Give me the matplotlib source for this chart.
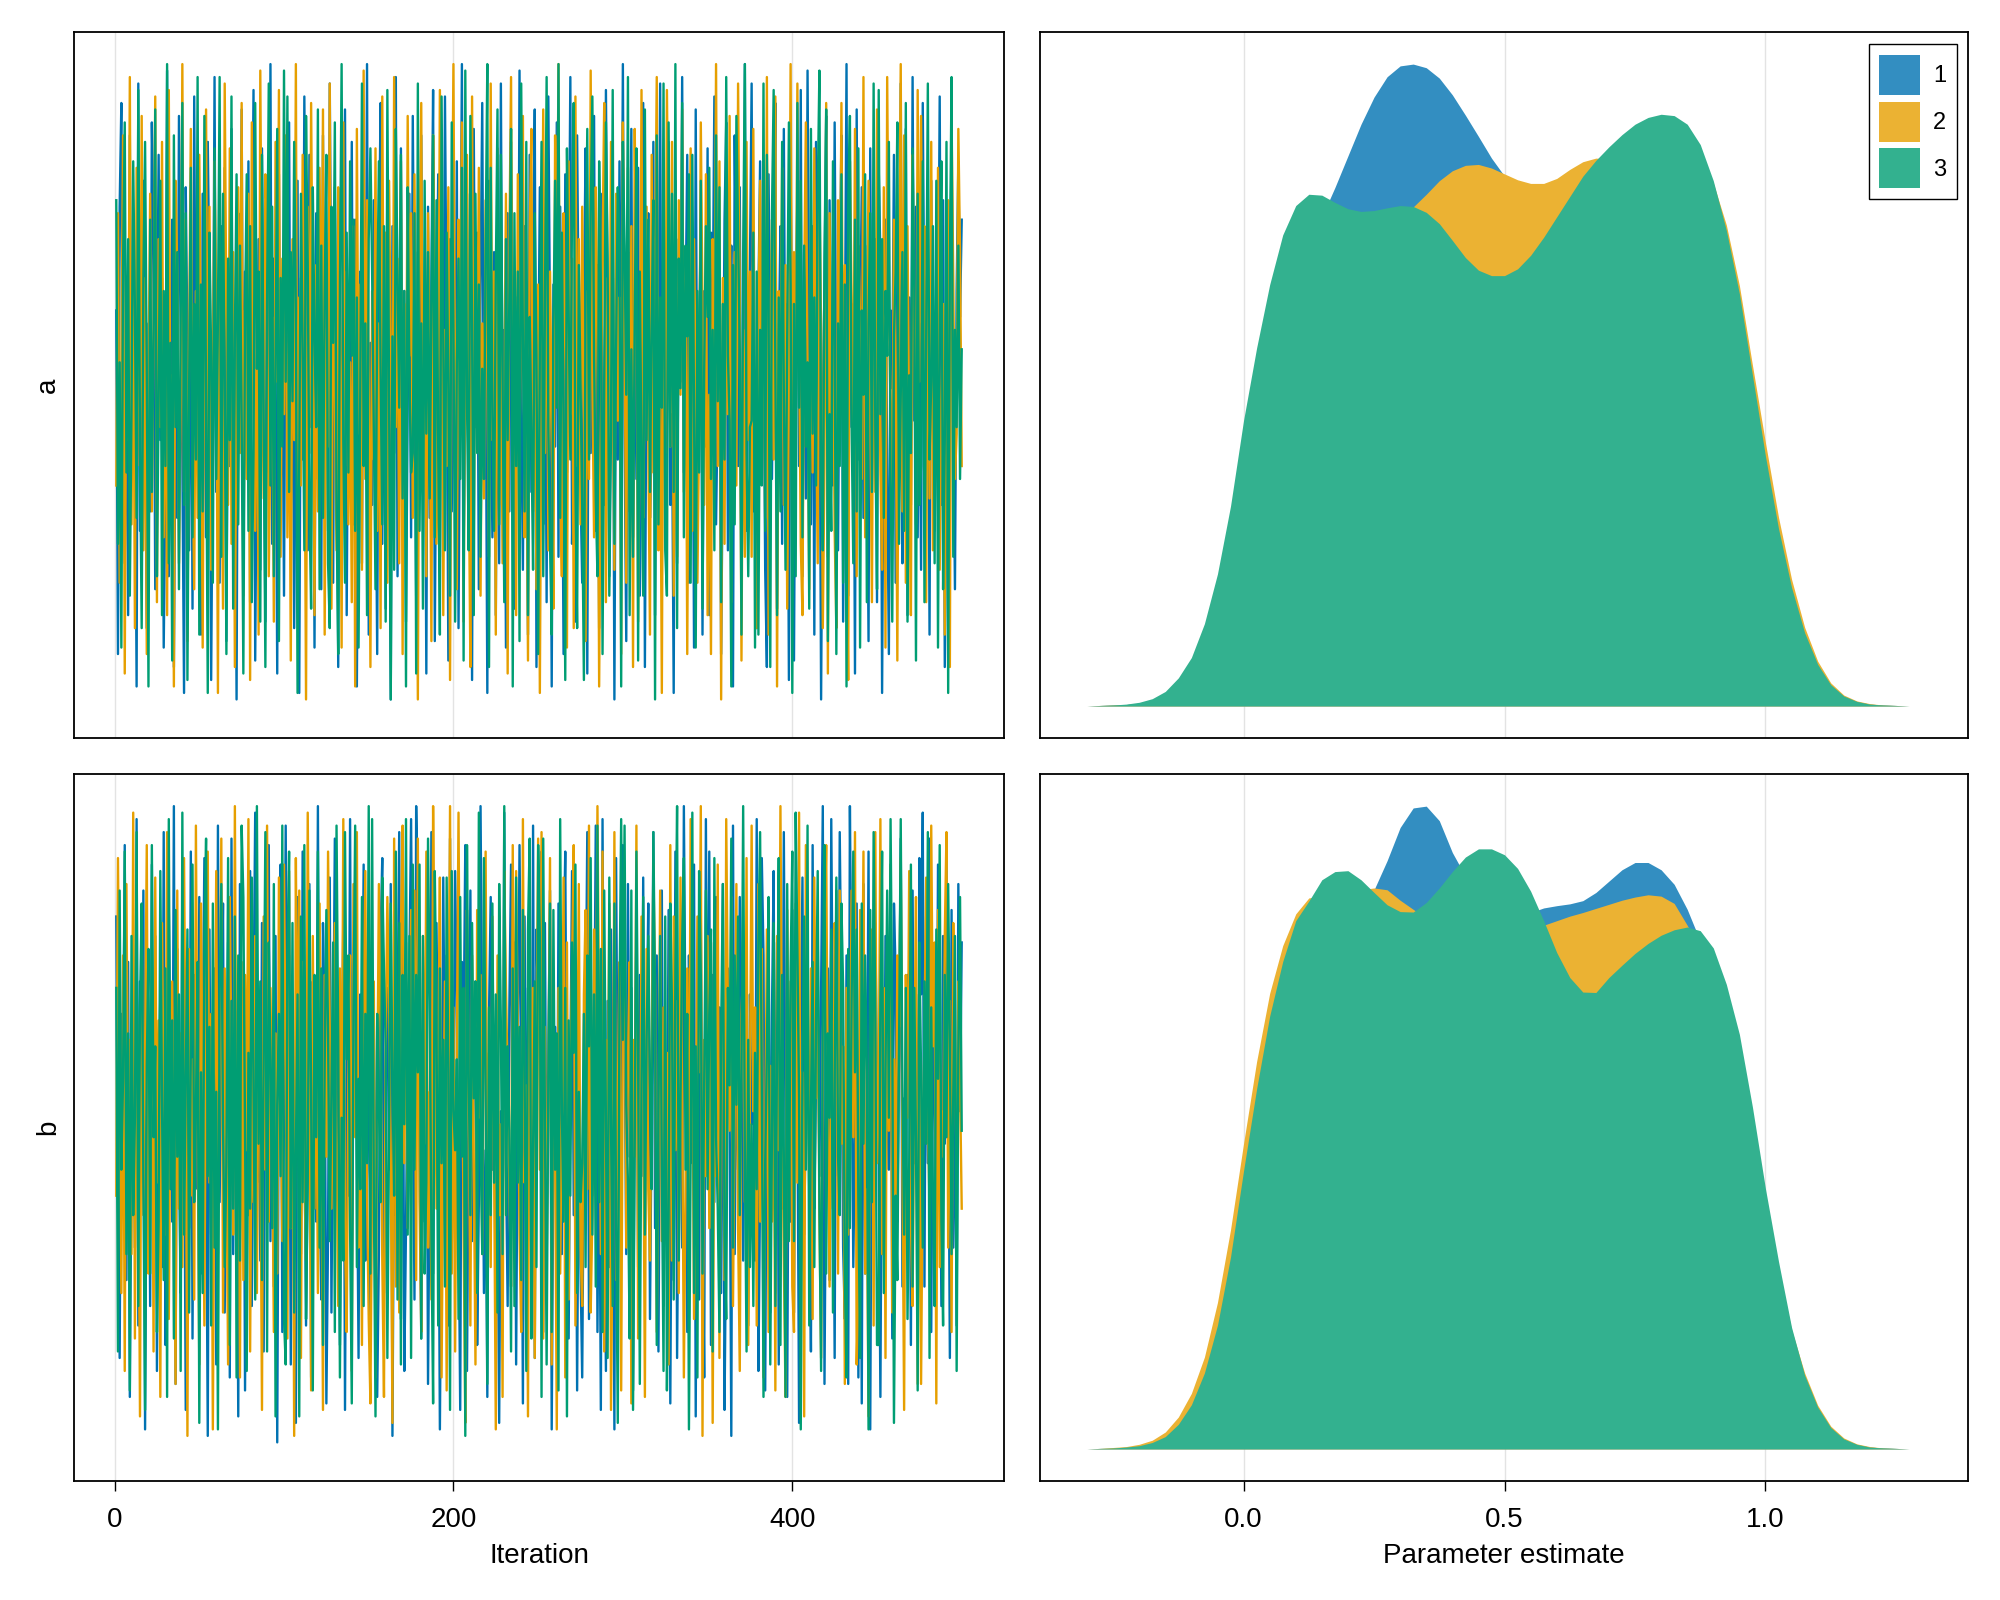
"""MCMC trace and density plot for parameters a and b, three chains."""

import matplotlib

matplotlib.use("Agg")

import matplotlib.pyplot as plt
import numpy as np
from matplotlib.patches import Patch

plt.rcParams["font.family"] = ["Liberation Sans", "DejaVu Sans"]

# Trace samples, stored as hundredths (0-99), one list per chain.
a_chain1 = [
    61, 8, 77, 93, 40, 22, 57, 14, 88, 35, 70, 49, 3, 96, 27, 64, 81, 45, 12, 59, 30, 90, 73, 18, 52,
    85, 41, 66, 9, 34, 98, 20, 53, 75, 6, 47, 29, 91, 63, 38, 2, 80, 56, 24, 71, 15, 94, 43, 68, 31,
    11, 79, 50, 26, 87, 65, 4, 42, 97, 33, 58, 19, 74, 46, 83, 10, 62, 37, 89, 23, 55, 1, 76, 48, 92,
    28, 67, 39, 84, 16, 60, 95, 7, 44, 72, 21, 86, 51, 13, 78, 36, 99, 25, 69, 54, 5, 82, 32, 58, 17,
    73, 46, 90, 30, 63, 12, 49, 81, 2, 66, 38, 94, 57, 24, 85, 43, 69, 9, 76, 35, 52, 18, 88, 41, 65,
    27, 96, 54, 19, 80, 47, 6, 71, 33, 59, 92, 14, 61, 40, 87, 28, 75, 3, 50, 67, 22, 84, 37, 99, 11,
    56, 31, 78, 44, 8, 69, 93, 25, 62, 15, 83, 48, 1, 74, 39, 97, 20, 58, 86, 34, 64, 13, 45, 79, 26,
    91, 53, 17, 70, 36, 88, 42, 60, 5, 77, 29, 66, 95, 10, 51, 82, 23, 68, 40, 94, 57, 7, 72, 30, 63,
    38, 84, 12, 55, 99, 24, 47, 79, 32, 61, 4, 89, 43, 73, 18, 65, 93, 35, 56, 2, 81, 49, 26, 70, 14,
    67, 22, 96, 41, 58, 9, 76, 30, 87, 52, 15, 63, 37, 98, 46, 21, 74, 54, 11, 85, 33, 69, 92, 6, 48,
    80, 43, 28, 71, 16, 94, 59, 3, 65, 40, 90, 23, 77, 50, 8, 82, 36, 61, 97, 25, 45, 13, 88, 57, 34,
    19, 62, 86, 5, 73, 39, 54, 91, 27, 68, 12, 79, 44, 31, 95, 60, 20, 53, 74, 1, 66, 38, 84, 47, 99,
    42, 10, 70, 57, 89, 26, 64, 35, 83, 17, 48, 93, 6, 58, 76, 29, 41, 87, 14, 69, 52, 96, 23, 78, 33,
    55, 87, 31, 45, 2, 81, 22, 72, 50, 97, 36, 60, 85, 19, 43, 67, 9, 92, 32, 56, 75, 11, 64, 40, 86,
    14, 73, 59, 94, 28, 47, 66, 8, 39, 75, 90, 24, 52, 71, 3, 88, 61, 37, 80, 18, 44, 99, 27, 53, 68,
    96, 30, 46, 12, 63, 84, 41, 57, 21, 6, 82, 49, 35, 67, 93, 15, 55, 74, 25, 89, 39, 62, 4, 83, 50,
    7, 58, 79, 37, 95, 20, 70, 32, 98, 54, 28, 74, 11, 87, 42, 60, 1, 46, 65, 91, 23, 78, 51, 34, 90,
    45, 24, 64, 88, 13, 53, 99, 17, 76, 43, 62, 5, 92, 38, 57, 80, 29, 71, 48, 10, 86, 33, 58, 72, 16,
    83, 69, 2, 51, 75, 36, 8, 61, 49, 85, 19, 67, 40, 96, 22, 50, 89, 14, 63, 31, 97, 44, 77, 26, 59,
    21, 93, 56, 39, 70, 11, 81, 44, 27, 66, 53, 94, 31, 78, 6, 35, 73, 58, 87, 47, 18, 64, 84, 60, 75,
]
a_chain2 = [
    34, 76, 19, 52, 88, 5, 63, 41, 97, 28, 70, 12, 83, 55, 37, 91, 24, 66, 8, 49, 79, 30, 58, 94, 16,
    72, 43, 87, 26, 60, 14, 95, 38, 51, 3, 81, 67, 22, 46, 99, 33, 75, 10, 57, 89, 40, 18, 64, 29, 85,
    53, 9, 68, 92, 36, 77, 21, 48, 84, 62, 2, 73, 44, 15, 96, 59, 31, 86, 25, 70, 6, 54, 80, 39, 93,
    17, 61, 35, 79, 4, 90, 47, 27, 65, 11, 98, 56, 32, 82, 74, 20, 42, 60, 13, 87, 50, 95, 23, 69, 45,
    88, 26, 56, 7, 72, 41, 99, 18, 63, 34, 85, 52, 1, 77, 39, 93, 57, 14, 68, 30, 83, 46, 92, 11, 61,
    40, 96, 15, 71, 48, 24, 80, 58, 9, 90, 37, 67, 28, 53, 16, 74, 3, 89, 42, 65, 21, 98, 35, 78, 50,
    6, 64, 38, 86, 27, 59, 12, 94, 45, 73, 19, 81, 55, 31, 97, 43, 69, 22, 84, 8, 62, 36, 91, 54, 76,
    29, 82, 47, 1, 68, 93, 33, 57, 20, 76, 51, 10, 88, 64, 25, 42, 95, 71, 14, 58, 37, 80, 4, 66, 99,
    44, 18, 75, 55, 90, 13, 62, 85, 38, 6, 94, 27, 70, 49, 83, 17, 59, 32, 78, 52, 23, 96, 41, 67, 11,
    86, 31, 60, 22, 46, 79, 5, 71, 97, 35, 56, 14, 82, 40, 63, 91, 26, 48, 7, 73, 89, 30, 55, 18, 65,
    2, 53, 92, 39, 81, 24, 67, 43, 15, 88, 61, 99, 34, 20, 76, 57, 9, 84, 45, 69, 12, 94, 37, 72, 28,
    77, 47, 10, 64, 35, 98, 50, 26, 80, 59, 3, 42, 71, 93, 16, 66, 38, 87, 55, 21, 79, 44, 63, 8, 90,
    58, 19, 83, 30, 74, 6, 89, 62, 13, 47, 95, 29, 54, 77, 41, 11, 85, 36, 68, 97, 24, 51, 2, 73, 39,
    95, 65, 40, 87, 17, 56, 23, 78, 48, 92, 33, 69, 8, 60, 86, 27, 72, 50, 19, 43, 90, 61, 31, 82, 14,
    48, 8, 72, 51, 99, 37, 84, 1, 66, 25, 79, 45, 91, 16, 53, 70, 34, 96, 62, 7, 58, 23, 87, 41, 67,
    23, 89, 33, 12, 60, 81, 43, 70, 29, 97, 11, 57, 75, 38, 94, 3, 64, 46, 83, 31, 68, 15, 52, 99, 36,
    70, 42, 96, 57, 25, 14, 65, 90, 52, 18, 74, 36, 86, 47, 22, 80, 58, 12, 37, 93, 5, 76, 44, 61, 27,
    12, 78, 54, 93, 44, 68, 28, 4, 84, 63, 39, 89, 20, 71, 60, 35, 97, 26, 55, 81, 47, 16, 73, 33, 92,
    65, 36, 21, 80, 9, 97, 61, 46, 31, 75, 52, 7, 67, 99, 30, 88, 19, 74, 40, 14, 85, 59, 28, 95, 50,
    91, 55, 74, 16, 69, 32, 87, 24, 58, 40, 83, 21, 48, 62, 11, 53, 78, 6, 91, 66, 35, 42, 89, 70, 37,
]
a_chain3 = [
    78, 25, 53, 9, 68, 90, 36, 72, 17, 46, 84, 61, 29, 95, 40, 12, 66, 87, 51, 3, 75, 33, 58, 92, 20,
    47, 81, 14, 64, 37, 99, 22, 56, 7, 88, 43, 70, 18, 59, 93, 31, 76, 4, 49, 83, 26, 62, 38, 97, 11,
    65, 30, 91, 45, 2, 73, 54, 19, 86, 35, 60, 97, 23, 79, 48, 8, 69, 41, 94, 15, 57, 82, 28, 71, 44,
    5, 60, 82, 27, 74, 16, 39, 93, 52, 67, 13, 85, 44, 6, 62, 96, 34, 77, 20, 53, 89, 10, 66, 40, 98,
    50, 94, 33, 70, 47, 87, 61, 2, 38, 79, 55, 24, 91, 68, 31, 15, 80, 57, 43, 92, 18, 71, 29, 63, 85,
    22, 12, 77, 56, 90, 30, 8, 65, 99, 41, 19, 73, 36, 84, 54, 75, 27, 63, 9, 48, 96, 37, 59, 14, 72,
    86, 67, 43, 18, 61, 84, 52, 28, 74, 13, 95, 48, 1, 57, 21, 89, 66, 46, 85, 32, 64, 3, 80, 51, 36,
    39, 76, 5, 96, 27, 59, 15, 81, 42, 70, 32, 62, 88, 26, 78, 40, 11, 94, 56, 24, 73, 49, 17, 90, 58,
    13, 53, 69, 35, 83, 7, 98, 47, 24, 91, 58, 14, 79, 39, 65, 23, 52, 35, 71, 99, 6, 83, 45, 27, 66,
    92, 28, 85, 50, 16, 72, 41, 63, 89, 3, 76, 37, 67, 10, 96, 56, 30, 87, 14, 60, 42, 21, 76, 54, 8,
    56, 87, 20, 62, 97, 43, 25, 11, 58, 81, 46, 99, 29, 73, 43, 4, 86, 61, 38, 77, 93, 34, 12, 68, 49,
    31, 4, 64, 89, 38, 76, 94, 54, 32, 20, 84, 65, 8, 50, 90, 69, 17, 42, 95, 25, 55, 80, 71, 3, 87,
    71, 48, 97, 14, 55, 23, 60, 86, 7, 67, 37, 17, 92, 41, 75, 33, 59, 78, 1, 88, 28, 63, 46, 96, 24,
    17, 90, 40, 79, 33, 99, 12, 69, 49, 93, 26, 71, 57, 82, 19, 85, 45, 9, 64, 36, 81, 15, 52, 74, 60,
    83, 35, 58, 24, 88, 47, 80, 16, 62, 38, 97, 54, 44, 3, 68, 28, 91, 73, 55, 11, 70, 99, 39, 20, 43,
    44, 73, 9, 67, 11, 58, 34, 96, 27, 85, 61, 6, 76, 95, 52, 14, 63, 30, 87, 48, 21, 57, 90, 65, 2,
    62, 20, 93, 46, 81, 26, 71, 40, 53, 15, 89, 42, 63, 34, 79, 98, 37, 24, 69, 92, 10, 45, 27, 84, 55,
    8, 59, 37, 82, 19, 65, 3, 77, 91, 44, 22, 75, 30, 86, 9, 61, 48, 82, 16, 59, 76, 33, 96, 42, 18,
    95, 45, 72, 29, 64, 54, 87, 35, 13, 57, 67, 90, 25, 48, 70, 27, 93, 13, 51, 39, 86, 64, 7, 79, 31,
    37, 84, 16, 55, 96, 38, 50, 74, 22, 81, 9, 60, 84, 18, 41, 87, 2, 68, 97, 23, 58, 43, 71, 35, 55,
]
b_chain1 = [
    82, 39, 14, 67, 51, 93, 26, 75, 8, 48, 60, 31, 97, 19, 72, 44, 86, 3, 56, 65, 22, 90, 37, 79, 12,
    54, 70, 28, 95, 16, 42, 83, 61, 35, 99, 10, 77, 47, 24, 88, 58, 6, 66, 34, 92, 17, 73, 50, 40, 85,
    27, 63, 91, 45, 2, 80, 33, 57, 74, 13, 96, 38, 62, 84, 21, 49, 78, 11, 94, 30, 68, 53, 5, 87, 43,
    71, 9, 58, 36, 89, 22, 67, 98, 41, 55, 29, 81, 15, 70, 46, 93, 32, 60, 25, 79, 1, 64, 90, 18, 52,
    96, 47, 76, 13, 62, 38, 4, 85, 69, 30, 92, 52, 19, 44, 87, 11, 72, 57, 35, 99, 41, 23, 81, 66, 7,
    33, 88, 21, 59, 94, 73, 47, 16, 53, 82, 6, 64, 39, 97, 26, 61, 85, 48, 14, 70, 56, 90, 29, 43, 76,
    15, 55, 66, 40, 8, 30, 79, 91, 24, 58, 71, 43, 87, 2, 50, 36, 65, 95, 20, 83, 12, 34, 62, 74, 97,
    60, 23, 99, 84, 48, 17, 57, 35, 77, 10, 45, 95, 27, 68, 81, 55, 3, 40, 88, 53, 76, 19, 94, 31, 46,
    89, 70, 37, 6, 75, 63, 93, 12, 50, 86, 32, 59, 72, 16, 38, 99, 61, 24, 46, 8, 67, 85, 43, 57, 20,
    41, 4, 52, 27, 98, 44, 22, 68, 90, 39, 78, 13, 56, 93, 64, 7, 82, 33, 71, 50, 27, 96, 14, 80, 66,
    74, 92, 18, 81, 34, 60, 86, 3, 45, 65, 23, 84, 48, 30, 75, 92, 42, 17, 58, 89, 36, 62, 9, 54, 28,
    11, 49, 63, 95, 20, 77, 39, 58, 96, 18, 53, 6, 97, 41, 12, 69, 28, 80, 54, 3, 91, 47, 73, 38, 93,
    67, 30, 87, 45, 71, 9, 56, 80, 28, 73, 42, 88, 33, 63, 84, 20, 52, 95, 34, 76, 15, 59, 86, 22, 61,
    35, 83, 7, 58, 26, 92, 14, 47, 64, 31, 99, 62, 18, 76, 55, 44, 90, 5, 69, 23, 82, 40, 11, 97, 48,
    92, 16, 73, 38, 85, 54, 68, 24, 87, 6, 36, 74, 51, 2, 96, 30, 66, 43, 85, 61, 29, 77, 53, 19, 70,
    50, 61, 29, 97, 12, 40, 91, 76, 9, 59, 83, 21, 67, 89, 24, 78, 13, 58, 37, 95, 48, 8, 64, 35, 83,
    21, 78, 56, 4, 64, 88, 33, 52, 71, 45, 15, 93, 37, 57, 80, 42, 70, 99, 10, 51, 74, 26, 97, 60, 14,
    86, 42, 95, 69, 31, 20, 76, 10, 99, 66, 28, 49, 84, 11, 63, 7, 87, 27, 46, 92, 3, 62, 38, 81, 56,
    46, 8, 62, 33, 79, 57, 43, 90, 17, 84, 73, 35, 61, 94, 25, 54, 35, 73, 65, 16, 86, 44, 70, 24, 91,
    70, 98, 25, 82, 44, 94, 18, 63, 54, 38, 90, 56, 22, 79, 47, 91, 60, 14, 83, 31, 58, 19, 87, 52, 78,
]
b_chain2 = [
    39, 91, 58, 24, 76, 12, 87, 45, 63, 30, 98, 17, 70, 52, 5, 82, 36, 61, 93, 27, 47, 74, 15, 88, 41,
    66, 8, 81, 49, 33, 95, 20, 57, 72, 44, 10, 86, 37, 64, 28, 91, 54, 2, 77, 39, 60, 23, 96, 48, 13,
    84, 55, 19, 71, 92, 41, 67, 3, 53, 89, 30, 60, 94, 21, 74, 46, 13, 85, 58, 33, 99, 40, 69, 11, 75,
    26, 73, 46, 97, 15, 62, 38, 79, 24, 68, 51, 6, 82, 43, 96, 35, 71, 50, 18, 64, 27, 88, 55, 32, 90,
    58, 17, 89, 34, 70, 2, 91, 56, 86, 14, 75, 42, 29, 98, 61, 9, 79, 37, 67, 24, 84, 52, 6, 73, 45,
    92, 64, 37, 60, 81, 49, 22, 74, 40, 97, 33, 18, 57, 76, 12, 87, 48, 95, 31, 54, 16, 66, 89, 39, 20,
    7, 43, 72, 11, 53, 87, 65, 29, 8, 62, 85, 69, 45, 4, 94, 25, 63, 21, 80, 96, 44, 78, 34, 60, 83,
    51, 86, 26, 94, 38, 18, 79, 47, 92, 31, 55, 23, 99, 70, 37, 58, 88, 11, 47, 72, 9, 57, 99, 27, 68,
    15, 62, 98, 53, 67, 33, 4, 83, 57, 19, 76, 45, 13, 83, 51, 73, 30, 66, 92, 36, 61, 28, 82, 44, 3,
    76, 36, 50, 8, 89, 71, 57, 40, 25, 93, 43, 89, 64, 33, 18, 97, 41, 56, 5, 85, 39, 71, 14, 62, 94,
    43, 95, 17, 65, 28, 55, 91, 13, 69, 48, 3, 71, 27, 52, 88, 11, 78, 23, 60, 74, 93, 19, 50, 87, 31,
    22, 70, 83, 40, 96, 21, 36, 80, 52, 99, 64, 30, 92, 15, 63, 47, 84, 6, 38, 95, 26, 54, 75, 9, 66,
    87, 31, 59, 75, 7, 63, 45, 96, 17, 34, 82, 56, 8, 77, 40, 29, 59, 90, 71, 18, 46, 86, 32, 68, 53,
    61, 13, 93, 29, 82, 46, 69, 24, 88, 55, 11, 41, 74, 37, 97, 65, 20, 43, 82, 58, 99, 2, 63, 42, 79,
    34, 78, 4, 56, 42, 90, 14, 60, 72, 26, 97, 67, 49, 85, 22, 53, 87, 34, 12, 67, 74, 38, 91, 16, 57,
    96, 52, 68, 19, 87, 35, 77, 11, 45, 80, 18, 59, 35, 63, 9, 79, 46, 99, 54, 29, 8, 83, 48, 72, 25,
    18, 84, 41, 98, 26, 58, 5, 93, 66, 39, 74, 20, 88, 54, 71, 36, 14, 62, 77, 93, 51, 25, 66, 37, 81,
    67, 27, 86, 47, 62, 10, 71, 33, 54, 86, 48, 95, 13, 25, 83, 58, 92, 27, 40, 5, 68, 80, 19, 95, 44,
    53, 97, 30, 71, 14, 79, 49, 90, 21, 60, 37, 76, 65, 91, 44, 6, 73, 51, 89, 35, 22, 57, 85, 10, 62,
    10, 45, 64, 88, 52, 37, 96, 62, 78, 7, 83, 28, 52, 45, 79, 95, 31, 69, 18, 81, 61, 43, 72, 56, 37,
]
b_chain3 = [
    71, 15, 86, 43, 57, 92, 30, 64, 9, 79, 36, 51, 95, 22, 68, 84, 41, 6, 59, 77, 27, 93, 48, 62, 18,
    35, 89, 53, 26, 74, 8, 97, 40, 66, 17, 83, 45, 70, 12, 98, 33, 56, 80, 21, 63, 90, 38, 52, 75, 4,
    58, 24, 79, 94, 42, 65, 19, 84, 31, 55, 3, 71, 87, 50, 28, 44, 91, 16, 69, 37, 82, 11, 76, 29, 96,
    85, 49, 12, 61, 37, 88, 56, 23, 99, 47, 72, 26, 61, 95, 15, 78, 60, 34, 87, 5, 53, 67, 42, 96, 20,
    13, 76, 92, 34, 81, 21, 46, 70, 5, 82, 38, 93, 20, 41, 86, 55, 9, 73, 48, 92, 31, 74, 16, 59, 83,
    64, 32, 55, 78, 18, 96, 63, 11, 51, 29, 95, 60, 76, 34, 7, 68, 96, 28, 57, 40, 85, 22, 67, 44, 99,
    27, 97, 40, 5, 67, 53, 38, 88, 74, 62, 14, 49, 84, 57, 39, 92, 23, 81, 13, 73, 50, 97, 33, 79, 14,
    90, 43, 73, 58, 90, 17, 79, 27, 41, 94, 69, 33, 7, 89, 66, 19, 74, 44, 63, 25, 88, 58, 6, 89, 52,
    46, 60, 20, 85, 45, 71, 2, 93, 58, 36, 81, 54, 72, 24, 98, 47, 30, 91, 55, 10, 68, 36, 84, 41, 70,
    21, 87, 65, 30, 99, 36, 62, 49, 15, 74, 22, 88, 41, 65, 26, 83, 59, 12, 80, 94, 17, 46, 72, 28, 93,
    79, 8, 94, 50, 13, 57, 84, 18, 83, 43, 64, 9, 97, 52, 35, 71, 5, 66, 39, 78, 61, 90, 24, 55, 38,
    44, 67, 28, 76, 62, 91, 33, 70, 25, 96, 38, 77, 18, 86, 49, 14, 88, 50, 22, 84, 35, 4, 69, 97, 63,
    96, 53, 41, 17, 86, 6, 47, 92, 60, 10, 56, 85, 33, 63, 79, 57, 40, 95, 70, 16, 52, 79, 44, 12, 82,
    9, 35, 84, 68, 23, 74, 99, 29, 53, 78, 91, 43, 67, 3, 45, 98, 24, 62, 11, 89, 73, 27, 57, 86, 40,
    67, 80, 15, 91, 48, 37, 18, 64, 87, 33, 20, 71, 56, 94, 31, 76, 53, 82, 36, 58, 99, 45, 15, 63, 28,
    50, 22, 61, 40, 78, 95, 56, 8, 44, 61, 85, 13, 49, 81, 22, 62, 91, 16, 73, 45, 8, 87, 32, 74, 92,
    32, 98, 77, 54, 3, 60, 82, 43, 96, 19, 52, 75, 28, 66, 89, 37, 12, 69, 93, 27, 64, 51, 80, 21, 57,
    88, 45, 36, 84, 71, 27, 11, 77, 34, 69, 92, 58, 80, 39, 14, 84, 47, 76, 58, 3, 83, 38, 95, 66, 16,
    16, 69, 92, 24, 58, 86, 51, 97, 65, 4, 39, 26, 61, 97, 55, 33, 71, 20, 44, 90, 25, 71, 47, 9, 78,
    58, 31, 72, 47, 95, 14, 68, 39, 22, 80, 57, 93, 35, 19, 73, 48, 87, 63, 30, 54, 79, 12, 61, 85, 49,
]

# Kernel density estimates, on a shared grid (height units).
density_grid = [
    -0.3, -0.275, -0.25, -0.225, -0.2, -0.175, -0.15, -0.125, -0.1, -0.075, -0.05, -0.025,
    0.0, 0.025, 0.05, 0.075, 0.1, 0.125, 0.15, 0.175, 0.2, 0.225, 0.25, 0.275, 0.3, 0.325,
    0.35, 0.375, 0.4, 0.425, 0.45, 0.475, 0.5, 0.525, 0.55, 0.575, 0.6, 0.625, 0.65, 0.675,
    0.7, 0.725, 0.75, 0.775, 0.8, 0.825, 0.85, 0.875, 0.9, 0.925, 0.95, 0.975, 1.0, 1.025,
    1.05, 1.075, 1.1, 1.125, 1.15, 1.175, 1.2, 1.225, 1.25, 1.275, 1.3,
]
a_density1 = [
    0, 1, 2, 3, 6, 12, 24, 47, 87, 152, 252, 392,
    562, 712, 842, 932, 992, 1032, 1082, 1147, 1217, 1287, 1347, 1392, 1416, 1420, 1412, 1389, 1352, 1307, 1260, 1212,
    1172, 1142, 1122, 1112, 1112, 1122, 1142, 1167, 1192, 1212, 1227, 1232, 1227, 1202, 1162, 1112, 1042, 942, 812, 662,
    502, 362, 242, 152, 87, 45, 21, 9, 4, 2, 1, 0, 0,
]
a_density2 = [
    0, 1, 2, 3, 6, 13, 27, 54, 97, 167, 272, 417,
    592, 742, 872, 962, 1012, 1032, 1037, 1034, 1030, 1032, 1042, 1062, 1082, 1104, 1132, 1162, 1184, 1196, 1198, 1190,
    1177, 1164, 1156, 1156, 1167, 1187, 1204, 1212, 1210, 1204, 1200, 1202, 1207, 1212, 1212, 1202, 1157, 1064, 930, 754,
    582, 417, 280, 174, 99, 51, 24, 11, 5, 2, 1, 0, 0,
]
a_density3 = [
    0, 1, 2, 4, 8, 16, 32, 62, 107, 182, 292, 442,
    632, 792, 932, 1042, 1107, 1132, 1130, 1114, 1100, 1094, 1096, 1102, 1107, 1105, 1092, 1067, 1030, 992, 964, 952,
    952, 967, 997, 1037, 1082, 1127, 1172, 1207, 1237, 1264, 1287, 1302, 1309, 1306, 1287, 1242, 1162, 1052, 912, 732,
    552, 392, 262, 162, 92, 47, 22, 10, 4, 2, 1, 0, 0,
]
b_density1 = [
    0, 1, 1, 3, 5, 10, 22, 45, 84, 147, 242, 382,
    557, 732, 892, 1012, 1102, 1157, 1187, 1202, 1207, 1212, 1230, 1294, 1367, 1410, 1414, 1382, 1312, 1260, 1197, 1167,
    1157, 1164, 1180, 1190, 1195, 1199, 1206, 1224, 1249, 1274, 1290, 1290, 1274, 1242, 1187, 1117, 1042, 952, 832, 682,
    522, 377, 247, 154, 87, 44, 20, 9, 4, 2, 1, 0, 0,
]
b_density2 = [
    0, 1, 3, 5, 10, 19, 37, 70, 122, 202, 322, 482,
    672, 852, 1002, 1107, 1177, 1212, 1217, 1220, 1224, 1230, 1234, 1230, 1207, 1187, 1167, 1147, 1132, 1122, 1120, 1124,
    1132, 1140, 1146, 1152, 1162, 1172, 1180, 1189, 1198, 1207, 1214, 1219, 1216, 1200, 1152, 1097, 1032, 947, 832, 692,
    542, 397, 262, 167, 96, 50, 24, 11, 5, 2, 1, 0, 0,
]
b_density3 = [
    0, 1, 2, 4, 7, 14, 27, 54, 97, 167, 272, 422,
    612, 792, 952, 1072, 1162, 1205, 1252, 1270, 1272, 1252, 1224, 1197, 1182, 1181, 1202, 1234, 1270, 1302, 1320, 1320,
    1307, 1277, 1227, 1162, 1092, 1037, 1005, 1004, 1037, 1064, 1090, 1112, 1130, 1142, 1148, 1140, 1102, 1022, 912, 752,
    572, 412, 267, 162, 92, 47, 22, 10, 4, 2, 1, 0, 0,
]

chain_labels = ["1", "2", "3"]
params = ["a", "b"]

LINE_COLORS = ["#0072B2", "#E69F00", "#009E73"]
FILL_COLORS = ["#338EC1", "#EBB233", "#33B18F"]
TICK_SIZE = 20


def style_axis(ax, show_x):
    for spine in ax.spines.values():
        spine.set_linewidth(1.3)
    ax.set_yticks([])
    ax.grid(axis="x", color="#e3e3e3", linewidth=1.0)
    ax.set_axisbelow(True)
    ax.tick_params(axis="x", direction="out", length=7, width=1.0, pad=11.5,
                   labelsize=TICK_SIZE)
    if not show_x:
        ax.tick_params(axis="x", length=0, labelbottom=False)


fig = plt.figure(figsize=(20, 16), dpi=100)
rows = [
    (0.53875, 0.44125, [a_chain1, a_chain2, a_chain3], [a_density1, a_density2, a_density3]),
    (0.074375, 0.441875, [b_chain1, b_chain2, b_chain3], [b_density1, b_density2, b_density3]),
]
grid_x = np.array(density_grid)

for row, (bottom, height, chains, densities) in enumerate(rows):
    last = row == len(rows) - 1
    ax_tr = fig.add_axes([0.037, bottom, 0.465, height])
    ax_de = fig.add_axes([0.52, bottom, 0.464, height])

    n = len(chains[0])
    iterations = np.arange(1, n + 1)
    for chain, color in zip(chains, LINE_COLORS):
        ax_tr.plot(iterations, np.array(chain) / 99, color=color, linewidth=1.7)
    margin = 0.05 * (n - 1)
    ax_tr.set_xlim(1 - margin, n + margin)
    ax_tr.set_ylim(-0.05, 1.05)
    ax_tr.set_xticks([0, 200, 400])
    style_axis(ax_tr, last)
    ax_tr.set_ylabel(params[row], fontsize=TICK_SIZE, labelpad=9.5)

    peak = 0
    for dens, color in zip(densities, FILL_COLORS):
        y = np.array(dens) / 1250
        peak = max(peak, y.max())
        ax_de.fill_between(grid_x, 0, y, color=color, linewidth=0)
    ax_de.set_xlim(-0.39, 1.388)
    ax_de.set_ylim(-0.05 * peak, 1.05 * peak)
    ax_de.set_xticks([0.0, 0.5, 1.0], ["0.0", "0.5", "1.0"])
    style_axis(ax_de, last)

    if last:
        ax_tr.set_xlabel("Iteration", fontsize=TICK_SIZE, labelpad=7.5)
        ax_de.set_xlabel("Parameter estimate", fontsize=TICK_SIZE, labelpad=7.5)

    if row == 0:
        handles = [Patch(facecolor=c, edgecolor="none") for c in FILL_COLORS]
        leg = ax_de.legend(
            handles, chain_labels, loc="upper right",
            bbox_to_anchor=(0.9785, 0.9722), bbox_transform=fig.transFigure,
            borderaxespad=0, fontsize=17, handlelength=1.74, handleheight=2.23,
            labelspacing=0.28, handletextpad=0.55, borderpad=0.45,
            fancybox=False, framealpha=1, edgecolor="black",
        )
        leg.get_frame().set_linewidth(1.0)

fig.savefig("out.png", dpi=100)
